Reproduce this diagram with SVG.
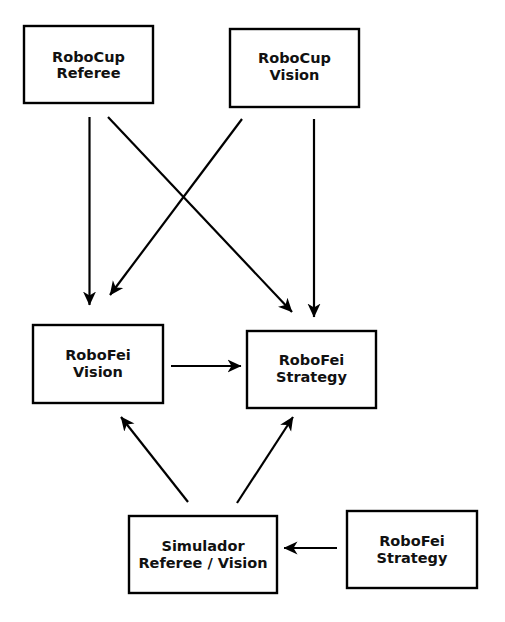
<svg xmlns="http://www.w3.org/2000/svg" width="505" height="622" viewBox="0 0 505 622">
<style>
.box{fill:#fff;stroke:#000;stroke-width:2.4}
.lbl{font-family:"DejaVu Sans",sans-serif;font-weight:bold;font-size:14.5px;fill:#111;text-anchor:middle}
.arr{stroke:#000;stroke-width:2.2;fill:none;marker-end:url(#ah)}
</style>
<defs>
<marker id="ah" viewBox="0 0 14 14" refX="13.5" refY="7" markerWidth="14" markerHeight="14" markerUnits="userSpaceOnUse" orient="auto">
<path d="M0,0.5 L14,7 L0,13.5 L4,7 z" fill="#000"/>
</marker>
</defs>
<rect width="505" height="622" fill="#fff"/>
<g id="robocup-referee">
<rect class="box" x="24" y="26" width="129" height="77"/>
<text class="lbl" x="88.5" y="62">RoboCup</text>
<text class="lbl" x="88.5" y="78">Referee</text>
</g>
<g id="robocup-vision">
<rect class="box" x="230" y="29" width="129" height="78"/>
<text class="lbl" x="294.5" y="63">RoboCup</text>
<text class="lbl" x="294.5" y="80">Vision</text>
</g>
<g id="robofei-vision">
<rect class="box" x="33" y="325" width="130" height="78"/>
<text class="lbl" x="98" y="360">RoboFei</text>
<text class="lbl" x="98" y="377">Vision</text>
</g>
<g id="robofei-strategy">
<rect class="box" x="247" y="331" width="129" height="77"/>
<text class="lbl" x="311.5" y="365">RoboFei</text>
<text class="lbl" x="311.5" y="382">Strategy</text>
</g>
<g id="simulador">
<rect class="box" x="129" y="516" width="148" height="77"/>
<text class="lbl" x="203" y="551">Simulador</text>
<text class="lbl" x="203" y="568">Referee / Vision</text>
</g>
<g id="robofei-strategy-2">
<rect class="box" x="347" y="511" width="130" height="77"/>
<text class="lbl" x="412" y="546">RoboFei</text>
<text class="lbl" x="412" y="563">Strategy</text>
</g>
<g id="connectors">
<line class="arr" x1="89.5" y1="117" x2="89.5" y2="305"/>
<line class="arr" x1="108" y1="117" x2="292" y2="312"/>
<line class="arr" x1="242" y1="119" x2="110" y2="295"/>
<line class="arr" x1="314" y1="119" x2="314" y2="317"/>
<line class="arr" x1="171" y1="366" x2="241" y2="366"/>
<line class="arr" x1="188" y1="502" x2="121" y2="417"/>
<line class="arr" x1="237" y1="503" x2="293" y2="417"/>
<line class="arr" x1="337" y1="548" x2="284" y2="548"/>
</g>
</svg>
